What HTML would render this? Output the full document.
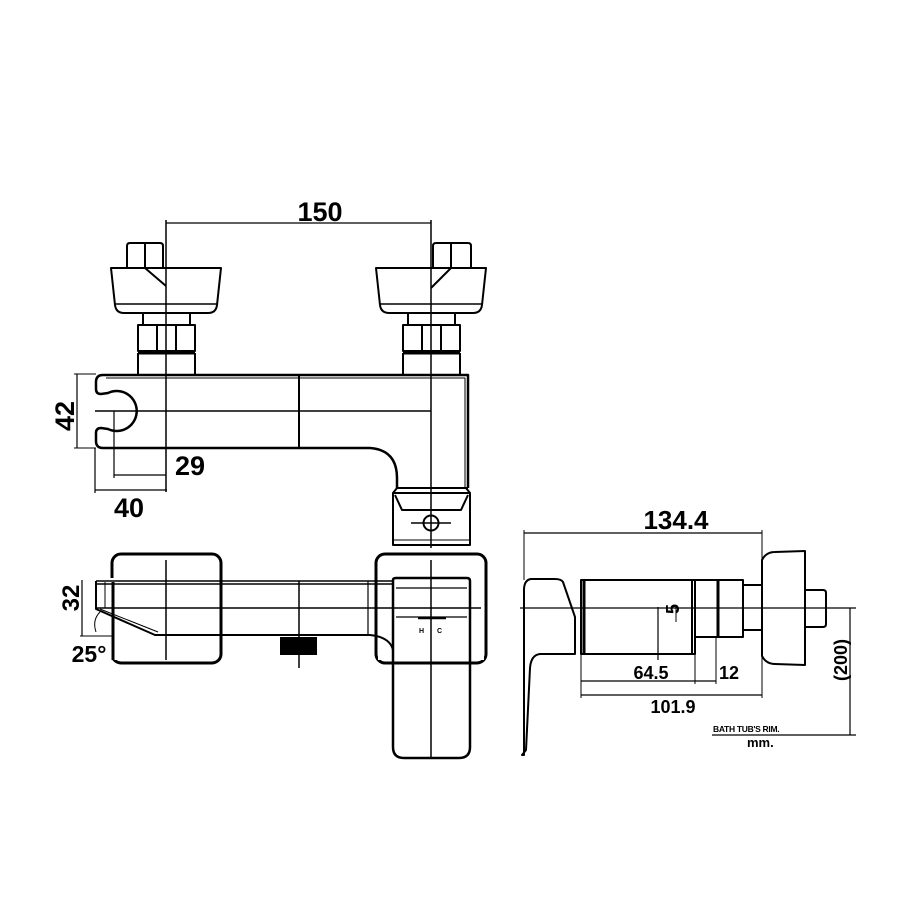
<!DOCTYPE html>
<html><head><meta charset="utf-8"><style>
html,body{margin:0;padding:0;background:#fff}
svg{display:block}
text{font-family:"Liberation Sans",sans-serif;font-weight:bold;fill:#000}
</style></head><body>
<svg width="900" height="900" viewBox="0 0 900 900" xmlns="http://www.w3.org/2000/svg">
<g fill="none" stroke="#000" stroke-width="2" stroke-linejoin="round">
<!-- TOP VIEW -->
<path d="M127,268 V246 Q127,243 130,243 H160 Q163,243 163,246 V268"/>
<path d="M145,243 V268 L166,286"/>
<path d="M111,268 H221 L217,305 Q216,313 208,313 H124 Q116,313 115,305 Z"/>
<line x1="114" y1="304" x2="218" y2="304" stroke-width="1.5"/>
<path d="M143,313 V325 M190,313 V325"/>
<rect x="138" y="325" width="57" height="26"/>
<path d="M157,325 V351 M176,325 V351"/>
<line x1="138" y1="353" x2="195" y2="353" stroke-width="3"/>
<path d="M138,353 V374 M195,353 V374"/>
<path d="M433,268 V246 Q433,243 436,243 H468 Q471,243 471,246 V268"/>
<path d="M451,243 V268 L431,288"/>
<path d="M376,268 H486 L482,305 Q481,313 473,313 H389 Q381,313 380,305 Z"/>
<line x1="379" y1="304" x2="483" y2="304" stroke-width="1.5"/>
<path d="M408,313 V325 M455,313 V325"/>
<rect x="403" y="325" width="57" height="26"/>
<path d="M422,325 V351 M441,325 V351"/>
<line x1="403" y1="353" x2="460" y2="353" stroke-width="3"/>
<path d="M403,353 V374 M460,353 V374"/>
<!-- body -->
<path d="M103,375 H468 V488 M103,375 Q96,375 96,382 V389 Q96,394 101,394 L108,393 A20,20 0 1 1 108,429 L101,428 Q96,428 96,433 V441 Q96,448 103,448 H370 Q397,450 397,478 V488" stroke-width="2.5"/>
<path d="M106,378 H465 V488" stroke-width="1"/>
<line x1="299" y1="375" x2="299" y2="448"/>
<line x1="95" y1="411" x2="431" y2="411" stroke-width="1.5"/>
<line x1="397" y1="488" x2="468" y2="488"/>
<path d="M393,493 L397,488 M470,493 L466,488"/>
<path d="M393,493 H470 V545 H393 Z M395,495 L402,510 H461 L468,495" stroke-width="2"/>
<line x1="393" y1="540" x2="470" y2="540" stroke-width="1"/>
<circle cx="431" cy="523" r="7.5"/>
<line x1="411" y1="523" x2="451" y2="523" stroke-width="1.5"/>
<line x1="166" y1="220" x2="166" y2="492" stroke-width="1.5"/>
<line x1="431" y1="220" x2="431" y2="548" stroke-width="1.5"/>
<line x1="166" y1="223" x2="431" y2="223" stroke-width="1.2"/>
<line x1="77" y1="374" x2="77" y2="448" stroke-width="1.2"/>
<line x1="74" y1="374" x2="96" y2="374" stroke-width="1"/>
<line x1="74" y1="448" x2="96" y2="448" stroke-width="1"/>
<line x1="114" y1="411" x2="114" y2="478" stroke-width="1.2"/>
<line x1="114" y1="475" x2="166" y2="475" stroke-width="1.2"/>
<line x1="95" y1="448" x2="95" y2="493" stroke-width="1.2"/>
<line x1="95" y1="490" x2="167" y2="490" stroke-width="1.2"/>

<!-- FRONT VIEW -->
<rect x="112" y="554" width="109" height="109" rx="9" stroke-width="3"/>
<rect x="376" y="554" width="110" height="109" rx="9" stroke-width="3"/>
<rect x="110" y="578" width="106" height="82" fill="#fff" stroke="none"/>
<rect x="378" y="578" width="106" height="82" fill="#fff" stroke="none"/>
<path d="M96,581 H393 M96,584 H393" stroke-width="1.5"/>
<path d="M96,581 V609 L155,635 H370 Q390,637 393,650" stroke-width="2"/>
<path d="M100,609 L158,632" stroke-width="1"/>
<line x1="113" y1="582" x2="113" y2="660" stroke-width="3"/>
<line x1="105" y1="582" x2="105" y2="608" stroke-width="1"/>
<line x1="96" y1="608" x2="481" y2="608" stroke-width="1.5"/>
<line x1="166" y1="560" x2="166" y2="660" stroke-width="1.5"/>
<line x1="299" y1="581" x2="299" y2="668" stroke-width="1.5"/>
<line x1="368" y1="581" x2="368" y2="635" stroke-width="1.2"/>
<rect x="280" y="637" width="37" height="18" fill="#000" stroke="none"/>
<path d="M393,580 Q393,578 396,578 H467 Q470,578 470,581 V747 Q470,758 459,758 H404 Q393,758 393,747 Z" stroke-width="2.5"/>
<path d="M396,588 H467 M396,617 H467" stroke-width="1.2"/>
<line x1="431" y1="560" x2="431" y2="758" stroke-width="1.5"/>
<line x1="418" y1="618" x2="446" y2="618" stroke-width="2.5"/>
<line x1="82" y1="580" x2="82" y2="636" stroke-width="1.2"/>
<line x1="80" y1="636" x2="113" y2="636" stroke-width="1"/>
<path d="M96,632 Q92,620 100,612" stroke-width="1"/>

<!-- SIDE VIEW -->
<path d="M526,750 L530,668 Q531,655 540,654 H575 V617 L563,582 Q561,579 555,579 H531 Q524,580 524,590 V755 H522 Z" stroke-width="2"/>
<rect x="581" y="580" width="114" height="74" stroke-width="2"/>
<line x1="584" y1="580" x2="584" y2="654" stroke-width="3"/>
<line x1="692" y1="580" x2="692" y2="654" stroke-width="2"/>
<rect x="695" y="580" width="48" height="57"/>
<line x1="718" y1="580" x2="718" y2="637" stroke-width="3"/>
<rect x="743" y="585" width="19" height="45"/>
<path d="M762,560 Q766,552 775,552 L805,551 V665 L775,664 Q766,664 762,656 Z" stroke-width="2"/>
<path d="M806,590 H823 Q826,590 826,593 V624 Q826,627 823,627 H806" stroke-width="2"/>
<line x1="520" y1="608" x2="856" y2="608" stroke-width="1.2"/>
<line x1="524" y1="533" x2="762" y2="533" stroke-width="1.2"/>
<line x1="524" y1="530" x2="524" y2="580" stroke-width="1"/>
<line x1="762" y1="530" x2="762" y2="698" stroke-width="1"/>
<line x1="581" y1="654" x2="581" y2="698" stroke-width="1"/>
<line x1="695" y1="637" x2="695" y2="684" stroke-width="1"/>
<line x1="716" y1="637" x2="716" y2="684" stroke-width="1"/>
<line x1="581" y1="681" x2="716" y2="681" stroke-width="1.2"/>
<line x1="581" y1="695" x2="762" y2="695" stroke-width="1.2"/>
<line x1="658" y1="607" x2="658" y2="660" stroke-width="1.2"/>
<line x1="676" y1="605" x2="676" y2="622" stroke-width="1"/>
<line x1="850" y1="608" x2="850" y2="735" stroke-width="1.2"/>
<line x1="712" y1="735" x2="856" y2="735" stroke-width="1.2"/>
</g>
<text x="320" y="221" font-size="27" text-anchor="middle">150</text>
<text x="0" y="0" font-size="27" text-anchor="middle" transform="translate(74,416) rotate(-90)">42</text>
<text x="190" y="475" font-size="27" text-anchor="middle">29</text>
<text x="129" y="517" font-size="27" text-anchor="middle">40</text>
<text x="0" y="0" font-size="24" text-anchor="middle" transform="translate(79,598) rotate(-90)">32</text>
<text x="89" y="662" font-size="23" text-anchor="middle">25°</text>
<text x="419" y="633" font-size="7">H</text>
<text x="437" y="633" font-size="7">C</text>
<text x="676" y="529" font-size="26" text-anchor="middle">134.4</text>
<text x="0" y="0" font-size="18" text-anchor="middle" transform="translate(679,609) rotate(-90)">5</text>
<text x="651" y="679" font-size="18" text-anchor="middle">64.5</text>
<text x="729" y="679" font-size="18" text-anchor="middle">12</text>
<text x="673" y="713" font-size="18" text-anchor="middle">101.9</text>
<text x="0" y="0" font-size="18" text-anchor="middle" transform="translate(847,660) rotate(-90)">(200)</text>
<text x="713" y="732" font-size="8.5" letter-spacing="-0.3">BATH TUB'S RIM.</text>
<text x="747" y="747" font-size="13">mm.</text>
</svg>
</body></html>
